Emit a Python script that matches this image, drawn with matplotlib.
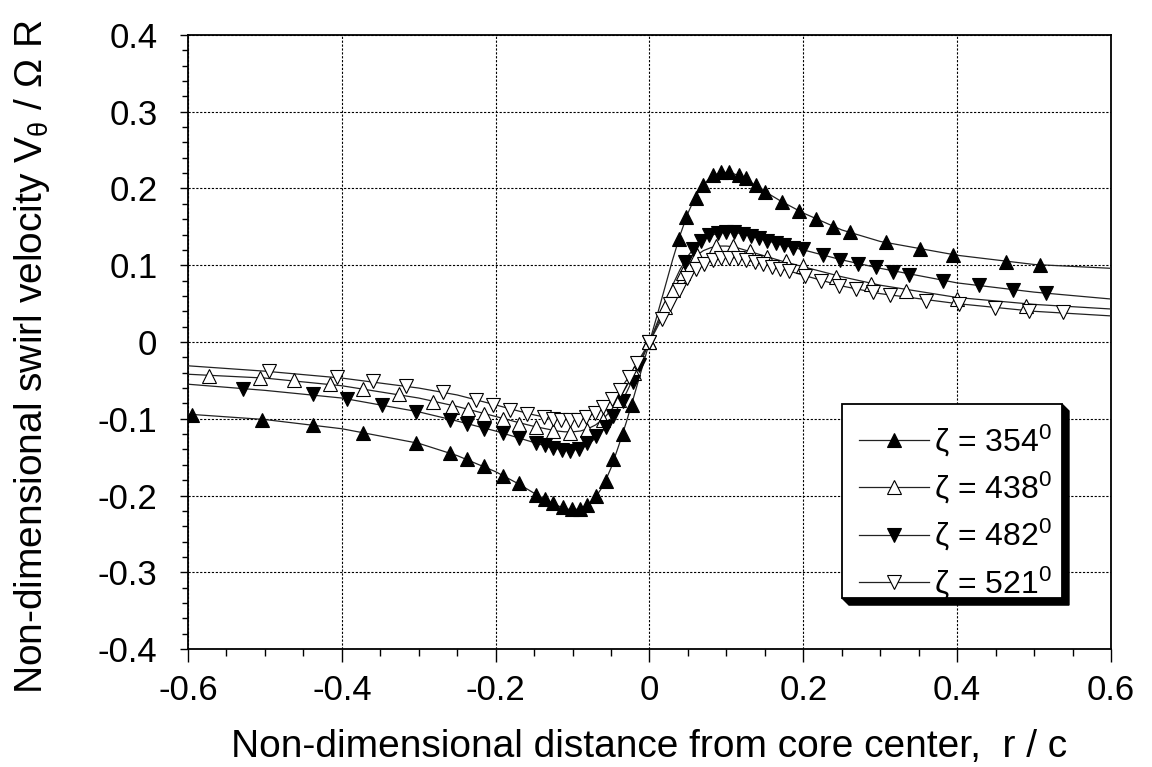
import matplotlib
matplotlib.use("Agg")
import matplotlib.pyplot as plt
from matplotlib.patches import Rectangle, Polygon
from matplotlib.ticker import MultipleLocator, FuncFormatter

plt.rcParams['font.family'] = ['Liberation Sans', 'DejaVu Sans']
plt.rcParams['mathtext.fontset'] = 'custom'
plt.rcParams['mathtext.rm'] = 'Liberation Sans'
plt.rcParams['mathtext.it'] = 'Liberation Sans:italic'
plt.rcParams['axes.unicode_minus'] = False

# ---- measured swirl velocity (markers) ----
r_354 = [-0.595, -0.504, -0.438, -0.372, -0.304, -0.259, -0.237, -0.215, -0.191, -0.170,
         -0.147, -0.136, -0.125, -0.113, -0.101, -0.091, -0.081, -0.069, -0.057, -0.047,
         -0.035, -0.023, 0.0,
         0.038, 0.048, 0.060, 0.070, 0.082, 0.093, 0.104, 0.116, 0.126, 0.138, 0.150,
         0.172, 0.195, 0.217, 0.239, 0.261, 0.307, 0.352, 0.395, 0.464, 0.508]
v_354 = [-0.095, -0.101, -0.108, -0.118, -0.131, -0.145, -0.153, -0.162, -0.174, -0.184,
         -0.199, -0.205, -0.210, -0.215, -0.218, -0.217, -0.213, -0.201, -0.181, -0.153,
         -0.120, -0.082, 0.0,
         0.134, 0.163, 0.188, 0.205, 0.217, 0.221, 0.221, 0.218, 0.214, 0.205, 0.196,
         0.183, 0.171, 0.160, 0.150, 0.143, 0.130, 0.121, 0.113, 0.104, 0.100]

r_438 = [-0.573, -0.506, -0.462, -0.416, -0.372, -0.326, -0.282, -0.257, -0.236, -0.215,
         -0.191, -0.170, -0.147, -0.125, -0.103, -0.081, -0.060, -0.040, -0.020, 0.0,
         0.020, 0.030, 0.043, 0.062, 0.086, 0.108, 0.131, 0.153, 0.177, 0.199, 0.243,
         0.288, 0.334, 0.400, 0.490]
v_438 = [-0.044, -0.047, -0.050, -0.055, -0.061, -0.068, -0.078, -0.085, -0.087, -0.094,
         -0.100, -0.107, -0.111, -0.116, -0.118, -0.114, -0.101, -0.076, -0.041, 0.0,
         0.046, 0.068, 0.090, 0.114, 0.125, 0.125, 0.119, 0.111, 0.105, 0.099, 0.085,
         0.076, 0.067, 0.056, 0.047]

r_482 = [-0.528, -0.438, -0.393, -0.348, -0.303, -0.259, -0.237, -0.215, -0.191, -0.170,
         -0.147, -0.136, -0.125, -0.114, -0.103, -0.092, -0.081, -0.069, -0.057, -0.047,
         -0.035, -0.022, -0.013, 0.0,
         0.046, 0.056, 0.067, 0.078, 0.089, 0.099, 0.110, 0.121, 0.132, 0.143, 0.153,
         0.164, 0.175, 0.186, 0.199, 0.225, 0.248, 0.271, 0.294, 0.316, 0.337, 0.382,
         0.428, 0.472, 0.516]
v_482 = [-0.061, -0.068, -0.074, -0.082, -0.091, -0.101, -0.107, -0.113, -0.118, -0.125,
         -0.131, -0.134, -0.138, -0.141, -0.142, -0.140, -0.131, -0.122, -0.111, -0.096,
         -0.077, -0.052, -0.030, 0.0,
         0.104, 0.121, 0.132, 0.139, 0.142, 0.143, 0.143, 0.141, 0.138, 0.135, 0.132,
         0.129, 0.126, 0.123, 0.121, 0.113, 0.107, 0.102, 0.098, 0.091, 0.087, 0.080,
         0.074, 0.068, 0.064]

r_521 = [-0.495, -0.406, -0.360, -0.316, -0.269, -0.226, -0.204, -0.181, -0.159, -0.137,
         -0.126, -0.115, -0.104, -0.093, -0.082, -0.071, -0.060, -0.049, -0.038, -0.027,
         -0.016, 0.0,
         0.016, 0.027, 0.038, 0.049, 0.060, 0.071, 0.082, 0.093, 0.104, 0.115, 0.126,
         0.137, 0.148, 0.159, 0.170, 0.181, 0.202, 0.223, 0.246, 0.269, 0.291, 0.313,
         0.359, 0.403, 0.449, 0.493, 0.537]
v_521 = [-0.038, -0.046, -0.051, -0.057, -0.065, -0.076, -0.082, -0.088, -0.094, -0.098,
         -0.100, -0.101, -0.102, -0.101, -0.098, -0.092, -0.085, -0.074, -0.062, -0.046,
         -0.028, 0.0,
         0.030, 0.050, 0.068, 0.083, 0.095, 0.102, 0.107, 0.109, 0.110, 0.109, 0.107,
         0.104, 0.101, 0.098, 0.095, 0.092, 0.086, 0.080, 0.073, 0.069, 0.065, 0.061,
         0.054, 0.050, 0.044, 0.041, 0.039]

# ---- fitted vortex profiles (curves) ----
curve_r = [-0.60, -0.50, -0.40, -0.30, -0.25, -0.20, -0.17, -0.15, -0.13, -0.12, -0.11,
           -0.10, -0.09, -0.08, -0.07, -0.06, -0.05, -0.04, -0.03, -0.02, -0.01, 0.00,
           0.01, 0.02, 0.03, 0.04, 0.05, 0.06, 0.07, 0.08, 0.09, 0.10, 0.11, 0.12,
           0.13, 0.15, 0.17, 0.20, 0.25, 0.30, 0.40, 0.50, 0.60]
fit_354 = [-0.094, -0.101, -0.113, -0.132, -0.148, -0.169, -0.185, -0.197, -0.208, -0.213,
           -0.217, -0.219, -0.217, -0.212, -0.202, -0.187, -0.164, -0.135, -0.104, -0.070,
           -0.035, 0.000, 0.035, 0.071, 0.107, 0.140, 0.168, 0.190, 0.205, 0.215, 0.220,
           0.221, 0.219, 0.215, 0.209, 0.196, 0.184, 0.168, 0.146, 0.131, 0.113, 0.101,
           0.096]
fit_438 = [-0.042, -0.047, -0.057, -0.073, -0.084, -0.097, -0.105, -0.110, -0.114, -0.116,
           -0.117, -0.117, -0.116, -0.113, -0.108, -0.100, -0.089, -0.075, -0.058, -0.040,
           -0.020, 0.000, 0.022, 0.044, 0.065, 0.084, 0.100, 0.112, 0.119, 0.123, 0.125,
           0.125, 0.124, 0.121, 0.118, 0.112, 0.106, 0.098, 0.085, 0.074, 0.058, 0.049,
           0.043]
fit_482 = [-0.055, -0.063, -0.073, -0.091, -0.103, -0.116, -0.125, -0.131, -0.137, -0.139,
           -0.141, -0.141, -0.139, -0.134, -0.125, -0.114, -0.100, -0.084, -0.066, -0.045,
           -0.023, 0.000, 0.025, 0.050, 0.074, 0.095, 0.112, 0.125, 0.134, 0.139, 0.142,
           0.143, 0.143, 0.141, 0.139, 0.133, 0.127, 0.120, 0.107, 0.096, 0.077, 0.065,
           0.056]
fit_521 = [-0.031, -0.038, -0.047, -0.060, -0.069, -0.082, -0.090, -0.095, -0.099, -0.100,
           -0.101, -0.101, -0.100, -0.097, -0.092, -0.085, -0.076, -0.064, -0.050, -0.034,
           -0.017, 0.000, 0.019, 0.038, 0.055, 0.070, 0.083, 0.094, 0.101, 0.106, 0.109,
           0.110, 0.110, 0.108, 0.106, 0.101, 0.096, 0.087, 0.073, 0.063, 0.050, 0.040,
           0.034]

labels = ['ζ = 354$^{0}$', 'ζ = 438$^{0}$', 'ζ = 482$^{0}$', 'ζ = 521$^{0}$']
x_ticks = [-0.6, -0.4, -0.2, 0.0, 0.2, 0.4, 0.6]
y_ticks = [-0.4, -0.3, -0.2, -0.1, 0.0, 0.1, 0.2, 0.3, 0.4]

series = [
    (r_354, v_354, fit_354, '^', 'black'),
    (r_438, v_438, fit_438, '^', 'white'),
    (r_482, v_482, fit_482, 'v', 'black'),
    (r_521, v_521, fit_521, 'v', 'white'),
]

fig = plt.figure(figsize=(11.52, 7.67), dpi=100)
ax = fig.add_axes([0.1632, 0.1538, 0.8012, 0.8006])

handles = []
for r, v, fit, mk, fc in series:
    ax.plot(curve_r, fit, color='#222222', lw=0.9, zorder=3)
    ax.plot(r, v, linestyle='none', marker=mk, markersize=9.5, markerfacecolor=fc,
            markeredgecolor='black', markeredgewidth=0.8, zorder=4)
    h, = ax.plot([], [], color='#222222', lw=0.9, marker=mk, markersize=9.5,
                 markerfacecolor=fc, markeredgecolor='black', markeredgewidth=0.8)
    handles.append(h)

ax.set_xlim(-0.6, 0.6)
ax.set_ylim(-0.4, 0.4)
ax.set_xticks(x_ticks)
ax.set_yticks(y_ticks)
ax.xaxis.set_minor_locator(MultipleLocator(0.05))
ax.yaxis.set_minor_locator(MultipleLocator(0.02))
fmt = FuncFormatter(lambda val, pos: f'{val:g}' if abs(val) > 1e-9 else '0')
ax.xaxis.set_major_formatter(fmt)
ax.yaxis.set_major_formatter(fmt)

ax.tick_params(axis='both', which='major', labelsize=25, direction='out', color='black')
ax.tick_params(axis='x', which='major', length=9, width=1, pad=9)
ax.tick_params(axis='x', which='minor', length=5, width=1)
ax.tick_params(axis='y', which='major', length=6, width=1, pad=16)
ax.tick_params(axis='y', which='minor', length=4, width=1)

ax.grid(True, which='major', color='black', linestyle=(0, (2.0, 1.5)), linewidth=0.8)
for s in ax.spines.values():
    s.set_linewidth(1.3)
    s.set_color('black')

ax.set_xlabel('Non-dimensional distance from core center,  r / c', fontsize=28)
ax.set_ylabel('Non-dimensional swirl velocity V$_{\\mathrm{θ}}$ / Ω R', fontsize=28)
ax.xaxis.set_label_coords(0.5, -0.13)
ax.yaxis.set_label_coords(-0.147, 0.476)

# legend frame with drop shadow
L, B, W, H = 0.7086, 0.083, 0.2383, 0.316
dx, dy = 0.0076, 0.0114
R, T = L + W, B + H
shadow = Polygon([(R, T), (R + dx, T - dy), (R + dx, B - dy), (L + dx, B - dy), (L, B), (R, B)],
                 closed=True, transform=ax.transAxes, facecolor='black', edgecolor='black',
                 zorder=5)
frame = Rectangle((L, B), W, H, transform=ax.transAxes, facecolor='white',
                  edgecolor='black', linewidth=1.3, zorder=6)
ax.add_patch(shadow)
ax.add_patch(frame)

leg = ax.legend(handles, labels, loc='upper left', bbox_to_anchor=(L + 0.0184, T - 0.03),
                frameon=False, fontsize=23, handlelength=2.2, handletextpad=0.15,
                labelspacing=0.355, borderpad=0.0, borderaxespad=0.0)
leg.set_zorder(7)

fig.savefig('out.png', dpi=100)
